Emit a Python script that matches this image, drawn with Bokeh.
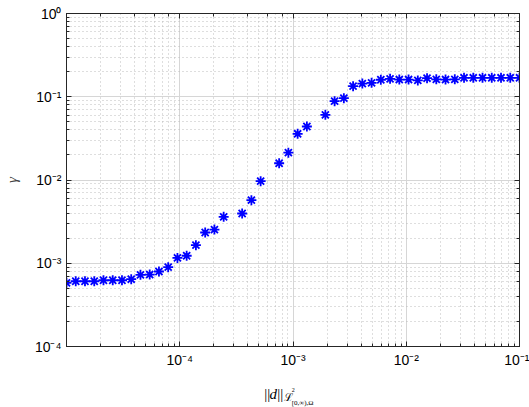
from bokeh.plotting import figure
from bokeh.models import LogAxis, CustomJSTickFormatter, Range1d
from bokeh.layouts import column
from bokeh.core.properties import value
from bokeh.embed import file_html
from bokeh.resources import INLINE

# ---- data ----
d_norm = [1.000e-5, 1.207e-5, 1.456e-5, 1.758e-5, 2.121e-5, 2.560e-5, 3.089e-5,
          3.728e-5, 4.498e-5, 5.429e-5, 6.551e-5, 7.906e-5, 9.541e-5, 1.151e-4,
          1.389e-4, 1.677e-4, 2.024e-4, 2.442e-4, 3.556e-4, 4.292e-4, 5.179e-4,
          7.543e-4, 9.103e-4, 1.099e-3, 1.326e-3, 1.931e-3, 2.330e-3, 2.812e-3,
          3.393e-3, 4.095e-3, 4.942e-3, 5.964e-3, 7.197e-3, 8.685e-3, 1.048e-2,
          1.265e-2, 1.526e-2, 1.842e-2, 2.223e-2, 2.683e-2, 3.237e-2, 3.907e-2,
          4.715e-2, 5.690e-2, 6.866e-2, 8.286e-2, 1.000e-1]
gamma = [5.82e-4, 6.08e-4, 6.08e-4, 6.08e-4, 6.25e-4, 6.25e-4, 6.25e-4,
         6.43e-4, 7.26e-4, 7.32e-4, 7.96e-4, 8.97e-4, 1.16e-3, 1.23e-3,
         1.65e-3, 2.34e-3, 2.54e-3, 3.61e-3, 3.96e-3, 5.72e-3, 9.68e-3,
         1.59e-2, 2.13e-2, 3.59e-2, 4.39e-2, 6.07e-2, 8.85e-2, 9.61e-2,
         0.134, 0.144, 0.147, 0.160, 0.164, 0.161, 0.161,
         0.157, 0.167, 0.162, 0.161, 0.162, 0.169, 0.169,
         0.169, 0.169, 0.169, 0.169, 0.169]

x_lim = (1e-5, 1e-1)
y_lim = (1e-4, 1e0)

W = 529
H_MAIN, H_LABEL = 378, 29
L, R, T, B = 65, 10, 13, 32

p = figure(width=W, height=H_MAIN, x_axis_type="log", y_axis_type="log",
           x_range=Range1d(*x_lim), y_range=Range1d(*y_lim),
           output_backend="svg", toolbar_location=None,
           min_border_left=L, min_border_right=R,
           min_border_top=T, min_border_bottom=B,
           background_fill_color="white", border_fill_color="white")
p.outline_line_color = "#262626"
p.outline_line_width = 1

sup_js = """
const e = Math.round(Math.log10(tick));
if (e < MINEXP) { return ""; }
const m = {"-":"\\u207B","0":"\\u2070","1":"\\u00B9","2":"\\u00B2","3":"\\u00B3",
           "4":"\\u2074","5":"\\u2075","6":"\\u2076","7":"\\u2077","8":"\\u2078","9":"\\u2079"};
return "10" + String(e).split("").map(c => m[c]).join("");
"""
x_fmt = CustomJSTickFormatter(code=sup_js.replace("MINEXP", "-4"))
y_fmt = CustomJSTickFormatter(code=sup_js.replace("MINEXP", "-99"))
blank = CustomJSTickFormatter(code="return '';")

for ax, fmt in ((p.xaxis[0], x_fmt), (p.yaxis[0], y_fmt)):
    ax.formatter = fmt
    ax.major_tick_in = 5
    ax.major_tick_out = 0
    ax.minor_tick_in = 3
    ax.minor_tick_out = 0
    ax.axis_line_color = "#262626"
    ax.major_tick_line_color = "#262626"
    ax.minor_tick_line_color = "#262626"
    ax.major_label_text_font = "Liberation Sans"
    ax.major_label_text_font_size = "14px"
    ax.major_label_text_color = "black"

p.xaxis[0].major_label_standoff = 5
p.yaxis[0].major_label_standoff = 5
p.yaxis[0].axis_label = "γ"
p.yaxis[0].axis_label_text_font = "Liberation Serif"
p.yaxis[0].axis_label_text_font_style = "italic"
p.yaxis[0].axis_label_text_font_size = "15px"
p.yaxis[0].axis_label_standoff = 12

for side in ("above", "right"):
    ax = LogAxis(formatter=blank, major_tick_in=5, major_tick_out=0,
                 minor_tick_in=3, minor_tick_out=0, major_label_standoff=0,
                 major_label_text_font_size="1px",
                 axis_line_color="#262626", major_tick_line_color="#262626",
                 minor_tick_line_color="#262626")
    p.add_layout(ax, side)

for g in (p.xgrid[0], p.ygrid[0]):
    g.grid_line_color = "#d6d6d6"
    g.grid_line_width = 1
    g.minor_grid_line_color = "#bcbcbc"
    g.minor_grid_line_dash = "1 3"
    g.minor_grid_line_width = 1

p.scatter(d_norm, gamma, marker="asterisk", size=10,
          line_color="#0000ff", line_width=1.8)

# ---- x-axis label strip below the plot ----
y_top = H_MAIN
q = figure(width=W, height=H_LABEL, x_range=Range1d(0, W),
           y_range=Range1d(y_top + H_LABEL, y_top),
           output_backend="svg", toolbar_location=None,
           x_axis_location=None, y_axis_location=None, min_border=0,
           background_fill_color="white", border_fill_color="white")
q.outline_line_color = None
q.grid.visible = False

DX = -29
pieces = [
    ("||", 260, 393, "15px", "normal", "Liberation Serif"),
    ("d", 266, 393, "15px", "italic", "Liberation Serif"),
    ("||", 275, 393, "15px", "normal", "Liberation Serif"),
    ("ℒ", 283, 396, "11px", "normal", "Liberation Serif"),
    ("2", 292, 389, "6px", "normal", "Liberation Serif"),
    ("[0,∞),Ω", 292, 402, "7px", "normal", "Liberation Serif"),
]
for txt, cx, cy, fs, st, fnt in pieces:
    q.text(x=[cx + DX], y=[cy], text=[txt], text_font=value(fnt),
           text_font_size=value(fs), text_font_style=value(st),
           text_color="black", text_baseline="alphabetic", text_align="left")

layout = column(p, q, spacing=0)
open("out.html", "w", encoding="utf-8").write(file_html(layout, INLINE))
